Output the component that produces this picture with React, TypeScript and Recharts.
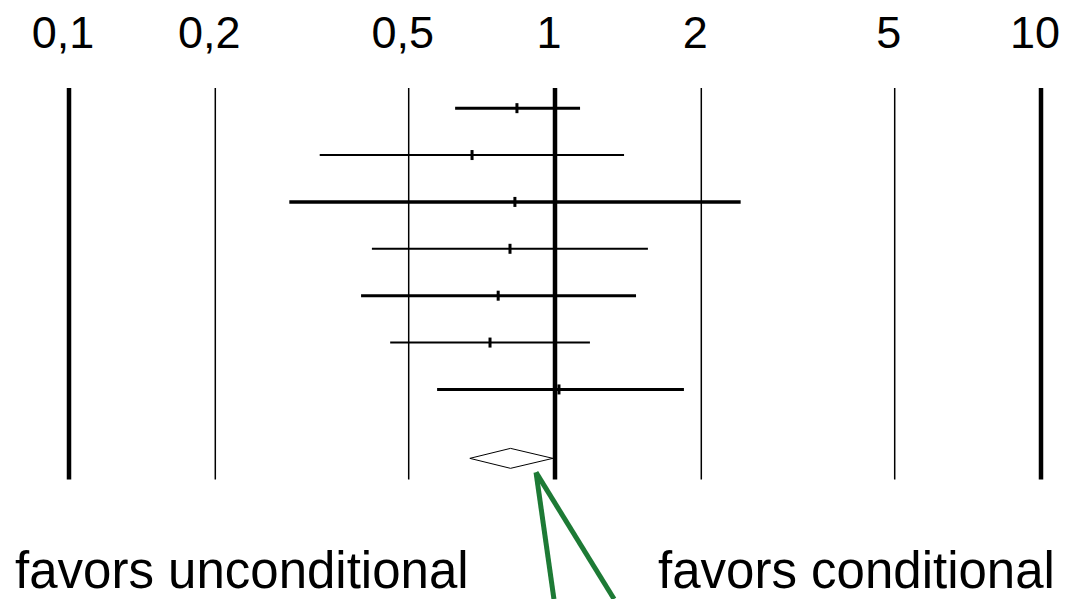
import { ComposedChart, XAxis, YAxis, Scatter, ReferenceLine } from 'recharts'

// forest plot, odds ratios on a log axis
const ticks = [0.1, 0.2, 0.5, 1, 2, 5, 10]
const thickTicks = [0.1, 1, 10]

const rows = [1, 2, 3, 4, 5, 6, 7]
const lower = [0.623, 0.328, 0.284, 0.42, 0.399, 0.458, 0.572]
const estimate = [0.835, 0.675, 0.827, 0.808, 0.764, 0.735, 1.019]
const upper = [1.126, 1.387, 2.41, 1.553, 1.468, 1.18, 1.842]
const weight = [3, 2, 3.5, 2, 3, 2, 3]

const pooledRow = 8.5
const pooled = { lo: 0.668, est: 0.81, hi: 0.99 }

const yTop = 0.6
const yBottom = 11.5
const gridEnd = 8.95

// green pointer under the pooled diamond
const arrowTip = { x: 0.914, y: 8.8 }
const arrowEnds = [{ x: 0.995, y: 11.5 }, { x: 1.323, y: 11.5 }]

const FONT = '"Liberation Sans", Arial, sans-serif'

const points = rows.map((r, i) => ({ x: estimate[i], y: r + 0.03 }))
const diamondH = 0.213
const diamond = [
  { x: pooled.lo, y: pooledRow },
  { x: pooled.est, y: pooledRow - diamondH },
  { x: pooled.hi, y: pooledRow },
  { x: pooled.est, y: pooledRow + diamondH },
  { x: pooled.lo, y: pooledRow },
]

function fmtTick(v: number) {
  return String(v).replace('.', ',')
}

function TopTick(props: any) {
  const { x, payload } = props
  return (
    <text x={x - 6} y={48} textAnchor="middle" fontSize={45} fontFamily={FONT} fill="#000">
      {fmtTick(payload.value)}
    </text>
  )
}

function Mark(props: any) {
  const { cx, cy } = props
  return <rect x={cx - 1.5} y={cy - 5} width={3} height={10} fill="#000" />
}

export default function App() {
  return (
    <div style={{ position: 'absolute', left: 0, top: 0, width: 1073, height: 599, background: '#fff' }}>
      <ComposedChart width={1073} height={599} margin={{ top: 58, right: 32, bottom: 0, left: 69 }}>
        <XAxis
          xAxisId={0}
          dataKey="x"
          type="number"
          scale="log"
          domain={[0.1, 10]}
          ticks={ticks}
          orientation="top"
          height={30}
          axisLine={false}
          tickLine={false}
          tick={<TopTick />}
          allowDataOverflow
        />
        <YAxis yAxisId={0} dataKey="y" type="number" domain={[yTop, yBottom]} reversed hide allowDataOverflow />

        {ticks.map((t) => (
          <ReferenceLine
            key={'g' + t}
            segment={[{ x: t, y: yTop }, { x: t, y: gridEnd }]}
            stroke="#000"
            strokeWidth={thickTicks.includes(t) ? 4.5 : 1.5}
            ifOverflow="visible"
          />
        ))}

        {rows.map((r, i) => (
          <ReferenceLine
            key={'ci' + r}
            segment={[{ x: lower[i], y: r + 0.03 }, { x: upper[i], y: r + 0.03 }]}
            stroke="#000"
            strokeWidth={weight[i]}
            ifOverflow="visible"
          />
        ))}

        {arrowEnds.map((e, i) => (
          <ReferenceLine
            key={'a' + i}
            segment={[arrowTip, e]}
            stroke="#1d7a35"
            strokeWidth={5}
            ifOverflow="visible"
          />
        ))}

        <Scatter data={points} shape={<Mark />} isAnimationActive={false} />
        <Scatter
          data={diamond}
          line={{ stroke: '#000', strokeWidth: 1 }}
          lineType="joint"
          shape={() => null}
          isAnimationActive={false}
        />
      </ComposedChart>
      <svg width={1073} height={599} style={{ position: 'absolute', left: 0, top: 0, pointerEvents: 'none' }}>
        <text x={15} y={588} fontSize={51} fontFamily={FONT} fill="#000">favors unconditional</text>
        <text x={658} y={588} fontSize={51} fontFamily={FONT} fill="#000">favors conditional</text>
      </svg>
    </div>
  )
}
